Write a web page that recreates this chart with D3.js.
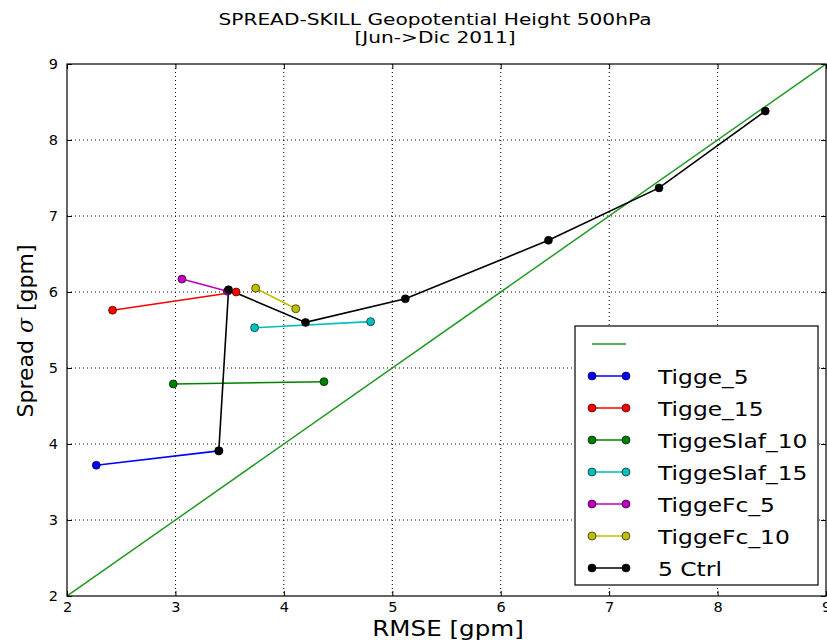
<!DOCTYPE html>
<html>
<head>
<meta charset="utf-8">
<script src="https://cdn.jsdelivr.net/npm/d3@7"></script>
<style>
  html, body { margin: 0; padding: 0; background: #fff; }
  svg { display: block; }
  text { font-family: "DejaVu Sans", sans-serif; fill: #000; }
</style>
</head>
<body>
<svg id="chart" width="827" height="642"></svg>
<script>
// Spread vs RMSE per ensemble configuration
const seriesNames = ["Tigge_5", "Tigge_15", "TiggeSlaf_10", "TiggeSlaf_15", "TiggeFc_5", "TiggeFc_10", "5 Ctrl"];
const seriesColors = ["#0000ff", "#ff0000", "#008000", "#00bfbf", "#bf00bf", "#bfbf00", "#000000"];

const tigge5Rmse = [2.27, 3.40];
const tigge5Spread = [3.72, 3.91];
const tigge15Rmse = [2.42, 3.56];
const tigge15Spread = [5.76, 6.00];
const slaf10Rmse = [2.98, 4.37];
const slaf10Spread = [4.79, 4.82];
const slaf15Rmse = [3.73, 4.80];
const slaf15Spread = [5.53, 5.61];
const fc5Rmse = [3.06, 3.48];
const fc5Spread = [6.17, 6.01];
const fc10Rmse = [3.74, 4.11];
const fc10Spread = [6.05, 5.78];
const ctrlRmse = [3.40, 3.49, 4.20, 5.12, 6.44, 7.46, 8.44];
const ctrlSpread = [3.91, 6.03, 5.60, 5.91, 6.68, 7.37, 8.38];

const xTicks = [2, 3, 4, 5, 6, 7, 8, 9];
const yTicks = [2, 3, 4, 5, 6, 7, 8, 9];
const axisDomain = [2, 9];

const seriesRmse = [tigge5Rmse, tigge15Rmse, slaf10Rmse, slaf15Rmse, fc5Rmse, fc10Rmse, ctrlRmse];
const seriesSpread = [tigge5Spread, tigge15Spread, slaf10Spread, slaf15Spread, fc5Spread, fc10Spread, ctrlSpread];

const series = seriesNames.map((name, i) => ({
  name,
  color: seriesColors[i],
  points: seriesRmse[i].map((x, j) => ({ x, y: seriesSpread[i][j] }))
}));

const svg = d3.select("#chart");
const plotLeft = 67, plotRight = 826, plotTop = 64, plotBottom = 596;

const x = d3.scaleLinear().domain(axisDomain).range([plotLeft, plotRight]);
const y = d3.scaleLinear().domain(axisDomain).range([plotBottom, plotTop]);

// text drawn slightly wide (horizontal stretch factor sx)
function wideText(parent, px, py, sx, size, str, anchor) {
  return parent.append("text")
    .attr("transform", `translate(${px},${py}) scale(${sx},1)`)
    .attr("text-anchor", anchor || "start")
    .attr("font-size", size)
    .text(str);
}

// dotted grid
const grid = svg.append("g");
grid.selectAll("line.gx").data(xTicks.slice(1, -1)).join("line")
  .attr("x1", d => x(d)).attr("x2", d => x(d))
  .attr("y1", plotTop).attr("y2", plotBottom)
  .attr("stroke", "#000").attr("stroke-width", 1).attr("stroke-dasharray", "1,3");
grid.selectAll("line.gy").data(yTicks.slice(1, -1)).join("line")
  .attr("y1", d => y(d)).attr("y2", d => y(d))
  .attr("x1", plotLeft).attr("x2", plotRight)
  .attr("stroke", "#000").attr("stroke-width", 1).attr("stroke-dasharray", "1,3");

// clip to the plot frame
svg.append("clipPath").attr("id", "plotclip").append("rect")
  .attr("x", plotLeft).attr("y", plotTop).attr("width", plotRight - plotLeft).attr("height", plotBottom - plotTop);

const plot = svg.append("g").attr("clip-path", "url(#plotclip)");

// one-to-one reference line
plot.append("line")
  .attr("x1", x(axisDomain[0])).attr("y1", y(axisDomain[0]))
  .attr("x2", x(axisDomain[1])).attr("y2", y(axisDomain[1]))
  .attr("stroke", "#229a22").attr("stroke-width", 1.5);

const line = d3.line().x(d => x(d.x)).y(d => y(d.y));

series.forEach(s => {
  plot.append("path").datum(s.points)
    .attr("d", line).attr("fill", "none")
    .attr("stroke", s.color).attr("stroke-width", 1.6);
});
series.forEach(s => {
  plot.selectAll(null).data(s.points).join("circle")
    .attr("cx", d => x(d.x)).attr("cy", d => y(d.y)).attr("r", 4)
    .attr("fill", s.color).attr("stroke", "#000").attr("stroke-width", 0.6);
});

// axes with inward ticks on all four sides
const tickLen = 5;
const ax = svg.append("g");
const bottomAxis = d3.axisBottom(x).tickValues(xTicks).tickSizeInner(-tickLen).tickSizeOuter(0).tickPadding(6).tickFormat(d3.format("d"));
const leftAxis = d3.axisLeft(y).tickValues(yTicks).tickSizeInner(-tickLen).tickSizeOuter(0).tickPadding(9).tickFormat(d3.format("d"));
const topAxis = d3.axisTop(x).tickValues(xTicks).tickSizeInner(-tickLen).tickSizeOuter(0).tickFormat("");
const rightAxis = d3.axisRight(y).tickValues(yTicks).tickSizeInner(-tickLen).tickSizeOuter(0).tickFormat("");

ax.append("g").attr("transform", `translate(0,${plotBottom})`).call(bottomAxis);
ax.append("g").attr("transform", `translate(${plotLeft},0)`).call(leftAxis);
ax.append("g").attr("transform", `translate(0,${plotTop})`).call(topAxis);
ax.append("g").attr("transform", `translate(${plotRight},0)`).call(rightAxis);
ax.selectAll(".domain").remove();
ax.selectAll(".tick line").attr("stroke", "#000");
ax.selectAll(".tick text").attr("font-family", "DejaVu Sans, sans-serif").attr("font-size", 14.5).attr("fill", "#000");

svg.append("rect").attr("x", plotLeft).attr("y", plotTop)
  .attr("width", plotRight - plotLeft).attr("height", plotBottom - plotTop)
  .attr("fill", "none").attr("stroke", "#000").attr("stroke-width", 1.2);

// titles
wideText(svg, 435, 25, 1.3, 15.5, "SPREAD-SKILL Geopotential Height 500hPa", "middle");
wideText(svg, 435, 43, 1.3, 15.5, "[Jun->Dic 2011]", "middle");

wideText(svg, 448, 636, 1.17, 21, "RMSE [gpm]", "middle");

const yl = svg.append("text").attr("transform", "translate(33,331) rotate(-90)")
  .attr("text-anchor", "middle").attr("font-size", 22);
yl.append("tspan").text("Spread ");
yl.append("tspan").attr("font-style", "italic").attr("font-family", "DejaVu Serif, serif").text("σ");
yl.append("tspan").text(" [gpm]");

// legend
const lg = svg.append("g");
lg.append("rect").attr("x", 575).attr("y", 326).attr("width", 243).attr("height", 259)
  .attr("fill", "#fff").attr("stroke", "#000").attr("stroke-width", 1.2);
const lx0 = 592, lx1 = 626, ly0 = 344, ldy = 32;
lg.append("line").attr("x1", lx0).attr("x2", lx1).attr("y1", ly0).attr("y2", ly0)
  .attr("stroke", "#229a22").attr("stroke-width", 1.5);
series.forEach((s, i) => {
  const yy = ly0 + ldy * (i + 1);
  lg.append("line").attr("x1", lx0).attr("x2", lx1).attr("y1", yy).attr("y2", yy)
    .attr("stroke", s.color).attr("stroke-width", 1.6);
  [lx0, lx1].forEach(cx => lg.append("circle").attr("cx", cx).attr("cy", yy).attr("r", 4)
    .attr("fill", s.color).attr("stroke", "#000").attr("stroke-width", 0.6));
  wideText(lg, 658, yy + 7.5, 1.2, 19.5, s.name);
});
</script>
</body>
</html>
